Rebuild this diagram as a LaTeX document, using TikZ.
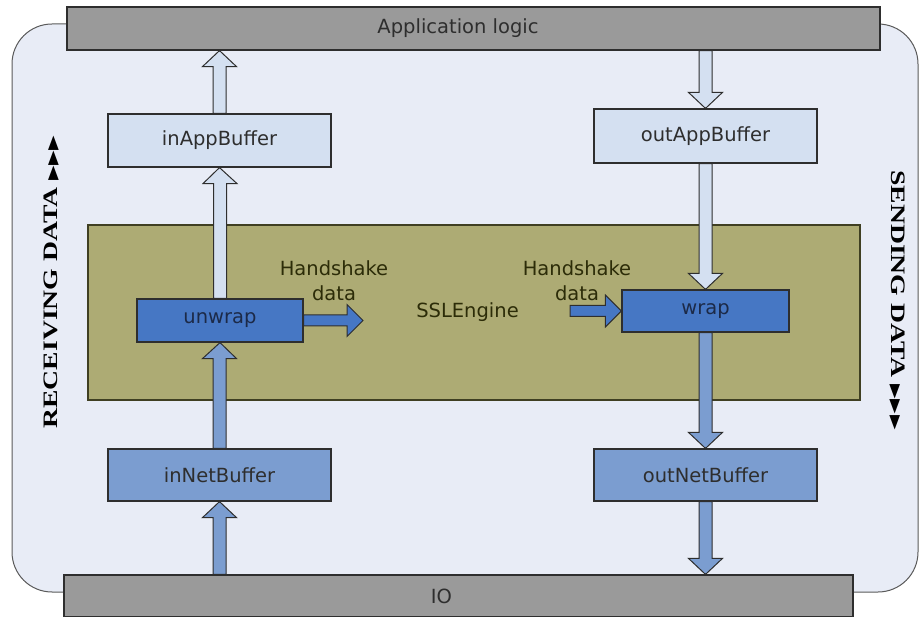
\documentclass[tikz,border=0pt]{standalone}
\usepackage{fontspec}
\setmainfont{DejaVu Sans}
\newfontfamily\sideserif{Liberation Serif}
\newfontfamily\symfont{DejaVu Sans}
\usetikzlibrary{calc}

\definecolor{panelbg}{HTML}{E8ECF6}
\definecolor{panelline}{HTML}{5A5A5A}
\definecolor{barfill}{HTML}{9A9A9A}
\definecolor{boxline}{HTML}{2E2E2E}
\definecolor{lightblue}{HTML}{D4E0F1}
\definecolor{midblue}{HTML}{7B9DD0}
\definecolor{darkblue}{HTML}{4677C4}
\definecolor{olive}{HTML}{ADAB74}
\definecolor{oliveline}{HTML}{3F3F22}
\definecolor{olivetext}{HTML}{2C2C08}
\definecolor{boxtext}{HTML}{2E2E2E}
\definecolor{darktext}{HTML}{1C2A48}

\newcommand\labelsize{\fontsize{19.5}{25}\selectfont}
\newcommand\sidesize{\sideserif\bfseries\fontsize{20.5}{22}\selectfont}
\newcommand\sidemarks{{\symfont\fontsize{14}{14}\selectfont ▶\kern0.5pt▶\kern0.5pt▶}}

% vertical block arrow: style, start, tip
\newcommand\blockv[3]{%
  \draw[#1] let \p1=#2, \p2=#3, \p3=($#3!16pt!#2$) in
    (\x1-6.5pt,\y1) -- (\x1-6.5pt,\y3) -- (\x1-17pt,\y3) -- (\x2,\y2)
    -- (\x1+17pt,\y3) -- (\x1+6.5pt,\y3) -- (\x1+6.5pt,\y1) -- cycle;}
% horizontal block arrow: style, start, tip
\newcommand\blockh[3]{%
  \draw[#1] let \p1=#2, \p2=#3, \p3=($#3!16pt!#2$) in
    (\x1,\y1-5.5pt) -- (\x3,\y1-5.5pt) -- (\x3,\y1-16pt) -- (\x2,\y2)
    -- (\x3,\y1+16pt) -- (\x3,\y1+5.5pt) -- (\x1,\y1+5.5pt) -- cycle;}

\tikzset{
  bar/.style={draw=boxline, line width=1.2pt, fill=barfill, inner sep=0pt,
    font=\labelsize, text=boxtext},
  buffer/.style={draw=boxline, line width=1.2pt, minimum width=223pt,
    minimum height=53pt, inner sep=0pt, font=\labelsize, text=boxtext},
  lightbuf/.style={buffer, fill=lightblue},
  midbuf/.style={buffer, fill=midblue},
  engineop/.style={draw=boxline, line width=1.2pt, fill=darkblue,
    minimum width=166pt, minimum height=43pt, inner sep=0pt,
    font=\labelsize, text=darktext},
  lightarrow/.style={draw=boxline, line width=1pt, fill=lightblue},
  midarrow/.style={draw=boxline, line width=1pt, fill=midblue},
  darkarrow/.style={draw=boxline, line width=1pt, fill=darkblue},
  hslabel/.style={align=center, font=\labelsize, text=olivetext, inner sep=0pt},
  sidelabel/.style={font=\sidesize, text=black, inner sep=0pt},
}

\begin{document}
\begin{tikzpicture}[x=1pt,y=-1pt]
\useasboundingbox (0,0) rectangle (919,617);

% rounded panel behind everything
\draw[panelline, line width=1pt, fill=panelbg, rounded corners=40pt]
  (12,24) rectangle (918,592);

% SSLEngine area
\node[draw=oliveline, line width=1.2pt, fill=olive, minimum width=772pt,
  minimum height=175pt, inner sep=0pt, font=\labelsize, text=olivetext]
  (ssl) at (474,312.5) {SSLEngine\hspace*{13pt}};

% top and bottom bars
\node[bar, minimum width=813pt, minimum height=43pt] (app) at (473.5,28.5)
  {Application logic\hspace*{31pt}};
\node[bar, minimum width=789pt, minimum height=42pt] (io) at (458.5,596)
  {IO\hspace*{34pt}};

% buffers and engine operations
\node[lightbuf] (inapp) at (219.5,140.5) {inAppBuffer};
\node[lightbuf, minimum height=54pt] (outapp) at (705.5,136) {outAppBuffer};
\node[midbuf, minimum height=52pt] (innet) at (219.5,475) {inNetBuffer};
\node[midbuf, minimum height=52pt] (outnet) at (705.5,475) {outNetBuffer};
\node[engineop] (unwrap) at (220,320.5) {unwrap};
\node[engineop, minimum width=167pt, minimum height=42pt] (wrap) at (705.5,311) {wrap};

% free ends of the handshake arrows
\coordinate (hsout) at (363,320.5);
\coordinate (hsin) at (570,311);

% receiving path
\blockv{midarrow}{(innet.north |- io.north)}{(innet.south)}
\blockv{midarrow}{(innet.north)}{(unwrap.south)}
\blockv{lightarrow}{(unwrap.north)}{(inapp.south)}
\blockv{lightarrow}{(inapp.north)}{(inapp.north |- app.south)}

% sending path
\blockv{lightarrow}{(outapp.north |- app.south)}{(outapp.north)}
\blockv{lightarrow}{(outapp.south)}{(wrap.north)}
\blockv{midarrow}{(wrap.south)}{(outnet.north)}
\blockv{midarrow}{(outnet.south)}{(outnet.south |- io.north)}

% handshake data
\blockh{darkarrow}{(unwrap.east)}{(hsout)}
\blockh{darkarrow}{(hsin)}{(wrap.west)}

% boxes redrawn on top of arrow ends
\node[engineop] at (unwrap) {unwrap};
\node[engineop, minimum width=167pt, minimum height=42pt] at (wrap) {wrap};

\node[hslabel] (hsl) at (334,281) {Handshake\\data};
\node[hslabel] (hsr) at (577,281) {Handshake\\data};

% side captions
\node[sidelabel, rotate=90] (recv) at (52,282)
  {\scalebox{1.35}[1]{RECEIVING DATA \sidemarks}};
\node[sidelabel, rotate=-90] (send) at (897,300)
  {\scalebox{1.35}[1]{SENDING DATA \sidemarks}};
\end{tikzpicture}
\end{document}
